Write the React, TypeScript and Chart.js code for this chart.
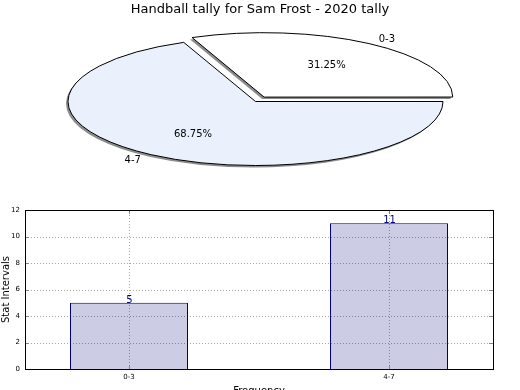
import React, { useEffect, useRef } from 'react';
import { Chart, registerables } from 'chart.js';

Chart.register(...registerables);

// ---- data ----
const chartTitle = 'Handball tally for Sam Frost - 2020 tally';
const categories = ['0-3', '4-7'];
const counts = [5, 11];
const pieColors = ['#ffffff', '#eaf0fc'];
const pieExplode = [62, 0];
const yTitle = 'Stat Intervals';
const xTitle = 'Frequency';

// ---- pie geometry (screen) ----
const PIE_CX = 255.5;
const PIE_CY = 101.5;
const PIE_R = 187.5;
const PIE_SY = 64 / 187.5;

const FONT = "'DejaVu Sans', sans-serif";
Chart.defaults.font.family = FONT;

const pieSquash = {
  id: 'pieSquash',
  beforeDatasetsDraw(chart: any) {
    const ctx = chart.ctx;
    const meta = chart.getDatasetMeta(0);
    const a0 = meta.data[0];
    const cx = a0.x;
    const cy = a0.y;
    ctx.save();
    const base = ctx.getTransform();
    ctx.translate(PIE_CX, PIE_CY);
    ctx.scale(1, PIE_SY);
    ctx.translate(-cx, -cy);
    ctx.shadowColor = 'rgba(0,0,0,0.45)';
    ctx.shadowOffsetX = -2;
    ctx.shadowOffsetY = 2;
    ctx.shadowBlur = 0;
    const proto = Object.getPrototypeOf(ctx);
    const origStroke = proto.stroke;
    ctx.stroke = function (...args: any[]) {
      this.save();
      this.setTransform(base);
      this.shadowColor = 'rgba(0,0,0,0)';
      origStroke.apply(this, args);
      this.restore();
    };
  },
  afterDatasetsDraw(chart: any) {
    const ctx = chart.ctx;
    delete ctx.stroke;
    ctx.restore();
    const meta = chart.getDatasetMeta(0);
    const data = chart.data.datasets[0].data as number[];
    const total = data.reduce((s, v) => s + v, 0);
    ctx.save();
    ctx.fillStyle = '#000';
    ctx.font = `10px ${FONT}`;
    ctx.textBaseline = 'middle';
    meta.data.forEach((arc: any, i: number) => {
      const mid = (arc.startAngle + arc.endAngle) / 2;
      const o = (arc.options.offset || 0) / 4;
      const R = arc.outerRadius;
      const dx = Math.cos(mid);
      const dy = Math.sin(mid);
      const lr = o + 1.1 * R;
      ctx.textAlign = dx >= 0 ? 'left' : 'right';
      ctx.fillText(chart.data.labels[i], PIE_CX + dx * lr, PIE_CY + PIE_SY * dy * lr + 0.5);
      const pr = o + 0.6 * R;
      ctx.textAlign = 'center';
      const pct = ((data[i] / total) * 100).toFixed(2) + '%';
      ctx.fillText(pct, PIE_CX + dx * pr, PIE_CY + PIE_SY * dy * pr + 0.5);
    });
    ctx.restore();
  },
};

const framePlugin = {
  id: 'frame',
  afterDatasetsDraw(chart: any) {
    const ctx = chart.ctx;
    const { left, right, top, bottom } = chart.chartArea;
    const xs = chart.scales.x;
    const ys = chart.scales.y;
    // dotted grid on top of bars
    ctx.save();
    ctx.strokeStyle = 'rgba(0,0,0,0.35)';
    ctx.lineWidth = 1;
    ctx.setLineDash([1, 2]);
    ctx.beginPath();
    ys.ticks.forEach((t: any) => {
      const y = Math.round(ys.getPixelForValue(t.value)) + 0.5;
      ctx.moveTo(left, y);
      ctx.lineTo(right, y);
    });
    xs.ticks.forEach((t: any) => {
      const x = Math.round(xs.getPixelForValue(t.value)) + 0.5;
      ctx.moveTo(x, bottom);
      ctx.lineTo(x, top);
    });
    ctx.stroke();
    ctx.restore();
    // value labels
    const meta = chart.getDatasetMeta(0);
    ctx.save();
    ctx.fillStyle = '#000080';
    ctx.font = `10px ${FONT}`;
    ctx.textAlign = 'center';
    ctx.textBaseline = 'alphabetic';
    meta.data.forEach((bar: any, i: number) => {
      ctx.fillText(String(counts[i]), bar.x + 0.5, bar.y);
    });
    ctx.restore();
  },
  afterDraw(chart: any) {
    const ctx = chart.ctx;
    const { left, right, top, bottom } = chart.chartArea;
    const xs = chart.scales.x;
    const ys = chart.scales.y;
    ctx.save();
    ctx.strokeStyle = '#888';
    ctx.lineWidth = 1;
    ctx.beginPath();
    ys.ticks.forEach((t: any) => {
      const y = Math.round(ys.getPixelForValue(t.value)) + 0.5;
      ctx.moveTo(left, y);
      ctx.lineTo(left + 4, y);
      ctx.moveTo(right, y);
      ctx.lineTo(right - 4, y);
    });
    xs.ticks.forEach((t: any) => {
      const x = Math.round(xs.getPixelForValue(t.value)) + 0.5;
      ctx.moveTo(x, bottom);
      ctx.lineTo(x, bottom - 4);
      ctx.moveTo(x, top);
      ctx.lineTo(x, top + 4);
    });
    ctx.stroke();
    ctx.strokeStyle = '#000';
    ctx.strokeRect(Math.round(left) + 0.5, Math.round(top) + 0.5, Math.round(right - left), Math.round(bottom - top));
    ctx.restore();
  },
};

export default function App() {
  const pieRef = useRef<HTMLCanvasElement>(null);
  const barRef = useRef<HTMLCanvasElement>(null);

  useEffect(() => {
    const pie = new Chart(pieRef.current as HTMLCanvasElement, {
      type: 'pie',
      data: {
        labels: categories,
        datasets: [
          {
            data: counts,
            backgroundColor: pieColors,
            borderColor: '#000',
            borderWidth: 1,
            borderJoinStyle: 'miter',
            offset: pieExplode,
            radius: PIE_R,
            clip: false,
          } as any,
        ],
      },
      options: {
        responsive: false,
        animation: false,
        events: [],
        rotation: -22.5,
        plugins: {
          legend: { display: false },
          tooltip: { enabled: false },
          title: {
            display: true,
            text: chartTitle,
            color: '#000',
            font: { size: 13, weight: 'normal', family: FONT },
            padding: { top: 2, bottom: 4 },
          },
        },
      } as any,
      plugins: [pieSquash],
    });

    const bar = new Chart(barRef.current as HTMLCanvasElement, {
      type: 'bar',
      data: {
        datasets: [
          {
            data: categories.map((_, i) => ({ x: i, y: counts[i] })),
            backgroundColor: '#ccccE5',
            borderColor: '#000080',
            borderWidth: 1,
            borderSkipped: 'start',
            inflateAmount: 0,
            barPercentage: 118 / 260,
            categoryPercentage: 1,
          } as any,
        ],
      },
      options: {
        responsive: false,
        animation: false,
        events: [],
        layout: { padding: { top: 210, right: 27, left: 0, bottom: 0 } },
        plugins: { legend: { display: false }, tooltip: { enabled: false } },
        scales: {
          x: {
            type: 'linear',
            min: -0.4,
            max: 1.4,
            offset: false,
            afterBuildTicks: (s: any) => {
              s.ticks = categories.map((_, i) => ({ value: i }));
            },
            afterFit: (s: any) => {
              s.height = 31;
            },
            ticks: {
              callback: (v: any) => categories[v] ?? '',
              font: { size: 7 },
              color: '#000',
              padding: 4,
              maxRotation: 0,
              autoSkip: false,
            },
            grid: { display: false, offset: false, drawTicks: false },
            border: { display: false },
            title: { display: true, text: xTitle, color: '#000', font: { size: 10 }, padding: { top: 0, bottom: 3 } },
          },
          y: {
            min: 0,
            max: 12,
            afterFit: (s: any) => {
              s.width = 25;
            },
            ticks: { stepSize: 2, font: { size: 7 }, color: '#000', padding: 5 },
            grid: { display: false, drawTicks: false },
            border: { display: false },
            title: { display: true, text: yTitle, color: '#000', font: { size: 10 }, padding: { top: 0, bottom: 0 } },
          },
        },
      } as any,
      plugins: [framePlugin],
    });

    return () => {
      pie.destroy();
      bar.destroy();
    };
  }, []);

  return (
    <div style={{ position: 'fixed', left: 0, top: 0, width: 520, height: 390, overflow: 'hidden', background: '#fff' }}>
      <canvas ref={barRef} width={520} height={400} style={{ position: 'absolute', left: 0, top: 0 }} />
      <canvas ref={pieRef} width={520} height={390} style={{ position: 'absolute', left: 0, top: 0, pointerEvents: 'none' }} />
    </div>
  );
}
